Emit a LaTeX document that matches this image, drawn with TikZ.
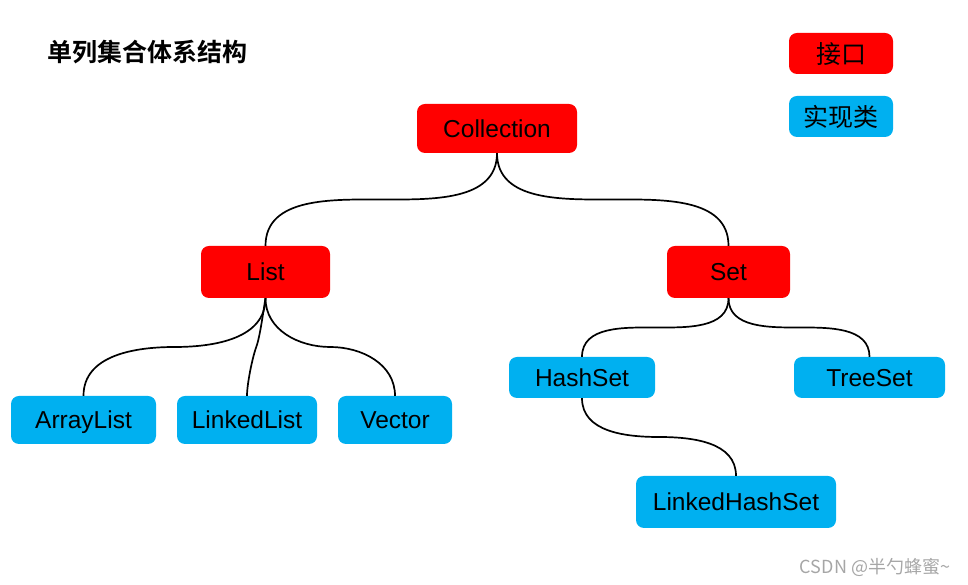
\documentclass[tikz,border=0pt]{standalone}
\usepackage{fontspec}
\setmainfont{Liberation Sans}
\newfontfamily\cjk{Noto Sans CJK SC}
\newfontfamily\cjkbold{Noto Sans CJK SC Bold}
\usetikzlibrary{calc}
\definecolor{ifacered}{HTML}{FF0000}
\definecolor{implblue}{HTML}{00B0F0}
\tikzset{
  box/.style={rounded corners=8pt, inner sep=0pt, text=black,
    text height=18pt, text depth=0pt,
    font=\fontsize{24.5}{28}\selectfont},
  iface/.style={box, fill=ifacered},
  impl/.style={box, fill=implblue},
  legend/.style={font=\cjk\fontsize{25}{28}\selectfont, text height=22pt, text depth=2pt},
  conn/.style={line width=1.7pt, black},
}

\begin{document}
\begin{tikzpicture}[x=1pt, y=1pt]
\useasboundingbox (0,0) rectangle (968,585);
% title and legend
\node[font=\cjkbold\fontsize{25}{28}\selectfont] (title) at (147,533) {单列集合体系结构};
\node[iface, legend, minimum width=104, minimum height=41] (legiface) at (841,531.5) {接口};
\node[impl, legend, minimum width=104, minimum height=41] (legimpl) at (841,468.5) {实现类};

% interfaces
\node[iface, minimum width=160, minimum height=49] (coll) at (497,456.5) {Collection};
\node[iface, minimum width=129, minimum height=52] (list) at (265.5,313) {List};
\node[iface, minimum width=123, minimum height=52] (set) at (728.5,313) {Set};

% implementations
\node[impl, minimum width=145, minimum height=48] (arraylist) at (83.5,165) {ArrayList};
\node[impl, minimum width=140, minimum height=48] (linkedlist) at (247,165) {LinkedList};
\node[impl, minimum width=114, minimum height=48] (vector) at (395,165) {Vector};
\node[impl, minimum width=146, minimum height=41] (hashset) at (582,207.5) {HashSet};
\node[impl, minimum width=151, minimum height=41] (treeset) at (869.5,207.5) {TreeSet};
\node[impl, minimum width=200, minimum height=52] (linkedhashset) at (736,83) {LinkedHashSet};

% connectors
\draw[conn] (coll.south) to[out=-90,in=0] ($(coll.south)!.5!(list.north)$)
    to[out=180,in=90] (list.north);
\draw[conn] (coll.south) to[out=-90,in=180] ($(coll.south)!.5!(set.north)$)
    to[out=0,in=90] (set.north);
\draw[conn] (list.south) to[out=-90,in=0] ($(list.south)!.5!(arraylist.north)$)
    to[out=180,in=90] (arraylist.north);
\draw[conn] (list.south) to[out=-100,in=70,looseness=.6] ($(list.south)!.5!(linkedlist.north)$)
    to[out=-110,in=90,looseness=.6] (linkedlist.north);
\draw[conn] (list.south) to[out=-90,in=180] ($(list.south)!.5!(vector.north)$)
    to[out=0,in=90] (vector.north);
\draw[conn] (set.south) to[out=-90,in=0] ($(set.south)!.5!(hashset.north)$)
    to[out=180,in=90] (hashset.north);
\draw[conn] (set.south) to[out=-90,in=180] ($(set.south)!.5!(treeset.north)$)
    to[out=0,in=90] (treeset.north);
\draw[conn] (hashset.south) to[out=-90,in=180] ($(hashset.south)!.5!(linkedhashset.north)$)
    to[out=0,in=90] (linkedhashset.north);

% watermark
\node[text=black!35, font=\cjk\fontsize{18}{20}\selectfont] (mark) at (875,18) {CSDN @半勺蜂蜜\textasciitilde};
\end{tikzpicture}
\end{document}
